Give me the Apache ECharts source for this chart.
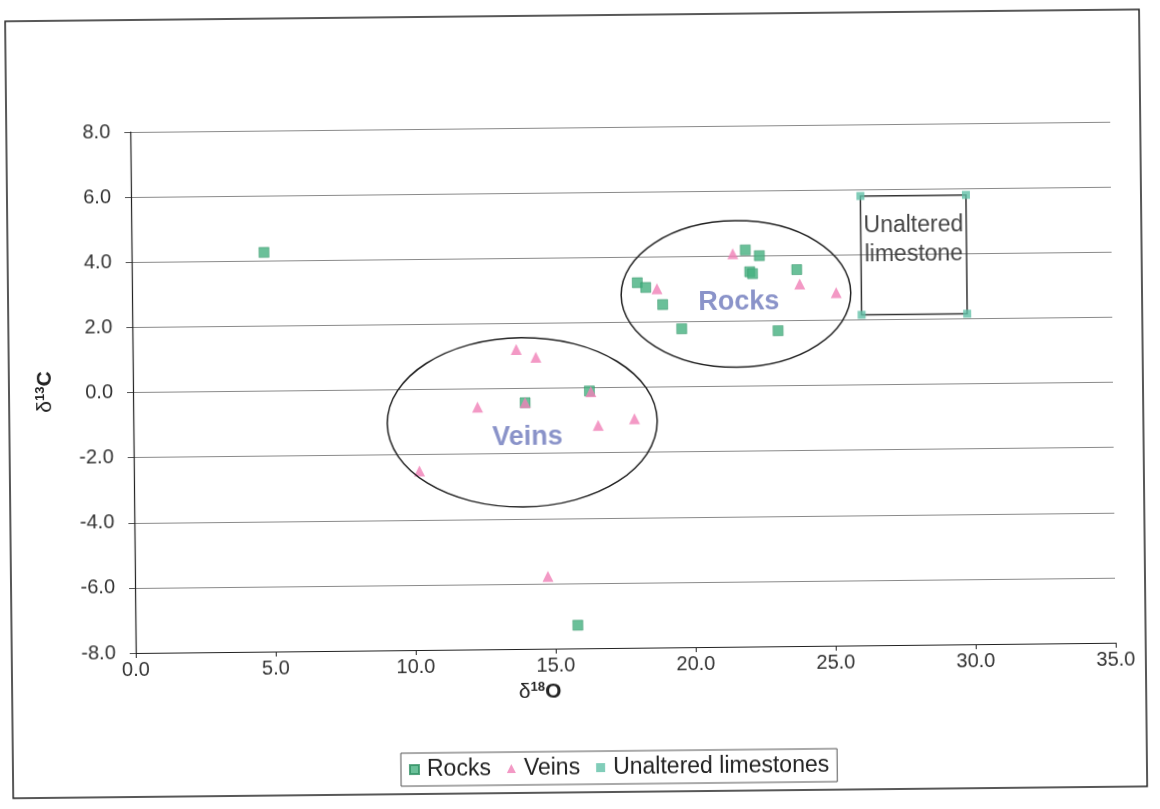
<!DOCTYPE html>
<html>
<head>
<meta charset="utf-8">
<script src="https://cdn.jsdelivr.net/npm/echarts@6/dist/echarts.min.js"></script>
<style>
  html, body { margin: 0; padding: 0; background: #fff; overflow: hidden; }
  /* the printed figure sits slightly askew on the page */
  #chart { width: 1160px; height: 809px; transform: rotate(-0.6deg); transform-origin: 133px 392px; }
</style>
</head>
<body>
<div id="chart"></div>
<script>
// δ18O / δ13C values of host rocks, veins and the unaltered limestone reference field
const rocksO = [4.73, 14.0, 16.3, 15.8, 18.05, 18.35, 18.95, 19.62, 21.92, 22.42, 22.07, 22.17, 23.75, 23.06];
const rocksC = [4.26, -0.44, -0.1, -7.29, 3.21, 3.06, 2.53, 1.78, 4.18, 4.0, 3.51, 3.45, 3.56, 1.69];

const veinsO = [10.2, 12.3, 13.7, 14.4, 14.0, 16.35, 16.6, 17.9, 14.75, 18.75, 21.47, 23.85, 25.15];
const veinsC = [-2.5, -0.56, 1.2, 0.95, -0.44, -0.12, -1.16, -0.97, -5.78, 3.02, 4.07, 3.12, 2.84];

const limestoneO = [26.05, 29.82, 26.05, 29.82];
const limestoneC = [5.8, 5.8, 2.15, 2.15];

const seriesNames = ['Rocks', 'Veins', 'Unaltered limestones'];
const xTicks = { min: 0, max: 35, interval: 5 };
const yTicks = { min: -8, max: 8, interval: 2 };

// field outlines (data units): centre, half-width, half-height, label
const fields = [
  { name: 'Veins', cx: 13.89, cy: -1.04, rx: 4.82, ry: 2.6, lx: 14.07, ly: -1.5 },
  { name: 'Rocks', cx: 21.57, cy: 2.83, rx: 4.1, ry: 2.25, lx: 21.67, ly: 2.57 }
];

const pairs = (xs, ys) => xs.map((x, i) => [x, ys[i]]);
const FONT = '"Liberation Sans", Arial, sans-serif';

const chart = echarts.init(document.getElementById('chart'));

chart.setOption({
  backgroundColor: '#ffffff',
  animation: false,
  grid: { left: 133, right: 47, top: 132, bottom: 156 },
  xAxis: {
    type: 'value',
    min: xTicks.min, max: xTicks.max, interval: xTicks.interval,
    axisLine: { show: true, onZero: false, lineStyle: { color: '#222', width: 1.2 } },
    axisTick: { show: true, length: 5, lineStyle: { color: '#222' } },
    axisLabel: { color: '#333', fontFamily: FONT, fontSize: 20, margin: 7,
      formatter: v => v.toFixed(1) },
    splitLine: { show: false }
  },
  yAxis: {
    type: 'value',
    min: yTicks.min, max: yTicks.max, interval: yTicks.interval,
    axisLine: { show: true, onZero: false, lineStyle: { color: '#222', width: 1.2 } },
    axisTick: { show: true, length: 6, lineStyle: { color: '#555' } },
    axisLabel: { color: '#333', fontFamily: FONT, fontSize: 20, margin: 20,
      formatter: v => v.toFixed(1) },
    splitLine: { show: true, lineStyle: { color: '#8a8a8a', width: 1.2 } }
  },
  legend: {
    left: 397, top: 756,
    data: seriesNames,
    itemWidth: 9, itemHeight: 9, itemGap: 16,
    borderColor: '#555', borderWidth: 1,
    padding: [5, 8, 5, 8],
    textStyle: { color: '#222', fontFamily: FONT, fontSize: 23, padding: [0, 0, 0, 3] }
  },
  series: [
    {
      name: seriesNames[0], type: 'scatter', symbol: 'rect', symbolSize: 10,
      itemStyle: { color: '#45b07f', borderColor: '#2f8f62', borderWidth: 0.6 },
      data: pairs(rocksO, rocksC), z: 3
    },
    {
      name: seriesNames[1], type: 'scatter', symbol: 'triangle', symbolSize: 11,
      itemStyle: { color: '#f07fb6' },
      data: pairs(veinsO, veinsC), z: 4
    },
    {
      name: seriesNames[2], type: 'scatter', symbol: 'rect', symbolSize: 8,
      itemStyle: { color: '#62c0a8' },
      data: pairs(limestoneO, limestoneC), z: 3,
      markArea: {
        silent: true,
        itemStyle: { color: 'rgba(0,0,0,0)', borderColor: '#333', borderWidth: 1.5 },
        label: {
          show: true, position: 'insideTop', distance: 16,
          color: '#444', fontFamily: FONT, fontSize: 23, lineHeight: 29,
          formatter: 'Unaltered\nlimestone'
        },
        data: [[
          { coord: [Math.min(...limestoneO), Math.max(...limestoneC)] },
          { coord: [Math.max(...limestoneO), Math.min(...limestoneC)] }
        ]]
      }
    }
  ]
});

// Annotation layer: field ellipses and their labels, axis titles, outer frame
const g = [];
fields.forEach(f => {
  const c = chart.convertToPixel({ gridIndex: 0 }, [f.cx, f.cy]);
  const e = chart.convertToPixel({ gridIndex: 0 }, [f.cx + f.rx, f.cy + f.ry]);
  const l = chart.convertToPixel({ gridIndex: 0 }, [f.lx, f.ly]);
  g.push({
    type: 'ellipse', z: 5, silent: true,
    shape: { cx: c[0], cy: c[1], rx: Math.abs(e[0] - c[0]), ry: Math.abs(c[1] - e[1]) },
    style: { fill: 'none', stroke: '#222', lineWidth: 1.5 }
  });
  g.push({
    type: 'text', z: 6, silent: true, x: l[0], y: l[1],
    style: { text: f.name, fill: '#8a93c9', font: 'bold 27px ' + FONT,
      textAlign: 'center', textVerticalAlign: 'middle' }
  });
});

const titleRich = {
  d: { font: '21px ' + FONT, fill: '#222' },
  s: { font: 'bold 13px ' + FONT, fill: '#222', padding: [0, 0, 9, 0] },
  b: { font: 'bold 21px ' + FONT, fill: '#222' }
};
g.push({
  type: 'text', silent: true, x: 537, y: 696,
  style: { text: '{d|δ}{s|18}{b|O}', textAlign: 'center', textVerticalAlign: 'middle', rich: titleRich }
});
g.push({
  type: 'text', silent: true, x: 45, y: 391, rotation: Math.PI / 2,
  style: { text: '{d|δ}{s|13}{b|C}', textAlign: 'center', textVerticalAlign: 'middle', rich: titleRich }
});
g.push({
  type: 'rect', silent: true, z: 0,
  shape: { x: 9, y: 20, width: 1134, height: 777 },
  style: { fill: 'none', stroke: '#222', lineWidth: 1.5 }
});

chart.setOption({ graphic: g });
</script>
</body>
</html>
